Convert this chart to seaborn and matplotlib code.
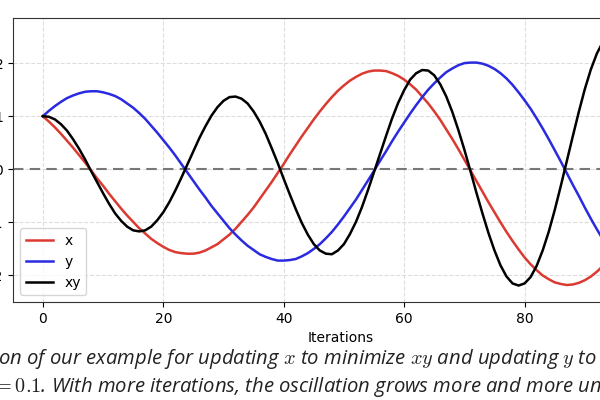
import numpy as np
import pandas as pd
import matplotlib
matplotlib.use('Agg')
import matplotlib.pyplot as plt
import seaborn as sns

# values, one per iteration
iters = list(range(0, 95))
x_vals = [1.00, 0.90, 0.79, 0.67, 0.54, 0.41, 0.27, 0.13, -0.02, -0.17,
          -0.31, -0.46, -0.60, -0.74, -0.87, -0.99, -1.11, -1.21, -1.31, -1.39,
          -1.46, -1.52, -1.56, -1.58, -1.59, -1.59, -1.57, -1.53, -1.47, -1.41,
          -1.32, -1.23, -1.12, -0.99, -0.86, -0.72, -0.56, -0.40, -0.24, -0.07,
          0.10, 0.28, 0.45, 0.62, 0.78, 0.94, 1.09, 1.23, 1.36, 1.48,
          1.58, 1.67, 1.74, 1.80, 1.84, 1.86, 1.86, 1.85, 1.81, 1.76,
          1.69, 1.60, 1.50, 1.37, 1.24, 1.09, 0.93, 0.75, 0.57, 0.38,
          0.18, -0.02, -0.22, -0.42, -0.62, -0.81, -1.00, -1.18, -1.35, -1.51,
          -1.66, -1.79, -1.90, -2.00, -2.07, -2.13, -2.16, -2.18, -2.17, -2.14,
          -2.09, -2.02, -1.93, -1.82, -1.68]
y_vals = [1.00, 1.10, 1.19, 1.27, 1.34, 1.39, 1.43, 1.46, 1.47, 1.47,
          1.45, 1.42, 1.38, 1.32, 1.24, 1.16, 1.06, 0.95, 0.82, 0.69,
          0.55, 0.41, 0.26, 0.10, -0.06, -0.22, -0.38, -0.53, -0.69, -0.83,
          -0.97, -1.11, -1.23, -1.34, -1.44, -1.52, -1.60, -1.65, -1.69, -1.72,
          -1.72, -1.71, -1.69, -1.64, -1.58, -1.50, -1.41, -1.30, -1.18, -1.04,
          -0.89, -0.73, -0.57, -0.39, -0.21, -0.03, 0.16, 0.34, 0.53, 0.71,
          0.88, 1.05, 1.21, 1.36, 1.50, 1.62, 1.73, 1.83, 1.90, 1.96,
          2.00, 2.01, 2.01, 1.99, 1.95, 1.89, 1.81, 1.71, 1.59, 1.45,
          1.30, 1.14, 0.96, 0.77, 0.57, 0.36, 0.15, -0.07, -0.29, -0.50,
          -0.72, -0.93, -1.13, -1.32, -1.51]
xy_vals = [1.00, 0.99, 0.94, 0.85, 0.73, 0.57, 0.39, 0.19, -0.03, -0.24,
           -0.45, -0.65, -0.83, -0.97, -1.08, -1.15, -1.17, -1.15, -1.08, -0.96,
           -0.81, -0.62, -0.40, -0.16, 0.09, 0.34, 0.59, 0.81, 1.01, 1.17,
           1.29, 1.36, 1.37, 1.33, 1.24, 1.09, 0.90, 0.67, 0.40, 0.12,
           -0.18, -0.47, -0.75, -1.01, -1.23, -1.41, -1.53, -1.59, -1.60, -1.53,
           -1.41, -1.22, -0.99, -0.71, -0.39, -0.05, 0.29, 0.63, 0.96, 1.25,
           1.49, 1.69, 1.81, 1.87, 1.86, 1.77, 1.60, 1.37, 1.08, 0.74,
           0.37, -0.03, -0.44, -0.83, -1.20, -1.53, -1.81, -2.02, -2.15, -2.19,
           -2.15, -2.03, -1.82, -1.53, -1.18, -0.77, -0.32, 0.15, 0.62, 1.08,
           1.51, 1.88, 2.18, 2.40, 2.53]

series = ['x', 'y', 'xy']
colors = {'x': '#db3a31', 'y': '#2a2ae0', 'xy': '#000000'}

df = pd.DataFrame({'iter': iters * 3,
                   'value': x_vals + y_vals + xy_vals,
                   'var': [s for s in series for _ in iters]})

plt.rcParams['mathtext.fontset'] = 'cm'

fig = plt.figure(figsize=(6, 4), dpi=100)
ax = fig.add_axes([0.0217, 0.245, 1.093, 0.71])

ax.axhline(0, color='#777777', linestyle='--', linewidth=1.5, dashes=(5, 3), zorder=1)
sns.lineplot(data=df, x='iter', y='value', hue='var', hue_order=series,
             palette=colors, linewidth=1.8, ax=ax, zorder=3)

ax.set_xlim(-4.95, 103.95)
ax.set_ylim(-2.5, 2.85)
ax.set_xticks([0, 20, 40, 60, 80, 100])
ax.set_yticks([-2, -1, 0, 1, 2])
ax.grid(True, linestyle='--', color='#dddddd', linewidth=0.8)
ax.set_axisbelow(True)
ax.set_xlabel('Iterations', fontsize=10)
ax.set_ylabel('')
for sp in ax.spines.values():
    sp.set_color('#333333')

leg = ax.legend(loc='lower left', fontsize=10, title=None, handlelength=2.0,
                borderaxespad=0.5)
for line in leg.get_lines():
    line.set_linewidth(1.8)

cap = dict(family='Open Sans', style='italic', fontsize=14.6, color='#222222', va='baseline')
fig.text(-0.003, 0.09, 'on of our example for updating $x$ to minimize $xy$ and updating $y$ to maximize $xy$.',
         ha='left', **cap)
fig.text(-0.030, 0.02, r'$\eta = 0.1$. With more iterations, the oscillation grows more and more unstable.',
         ha='left', **cap)

fig.savefig('out.png', dpi=100)
